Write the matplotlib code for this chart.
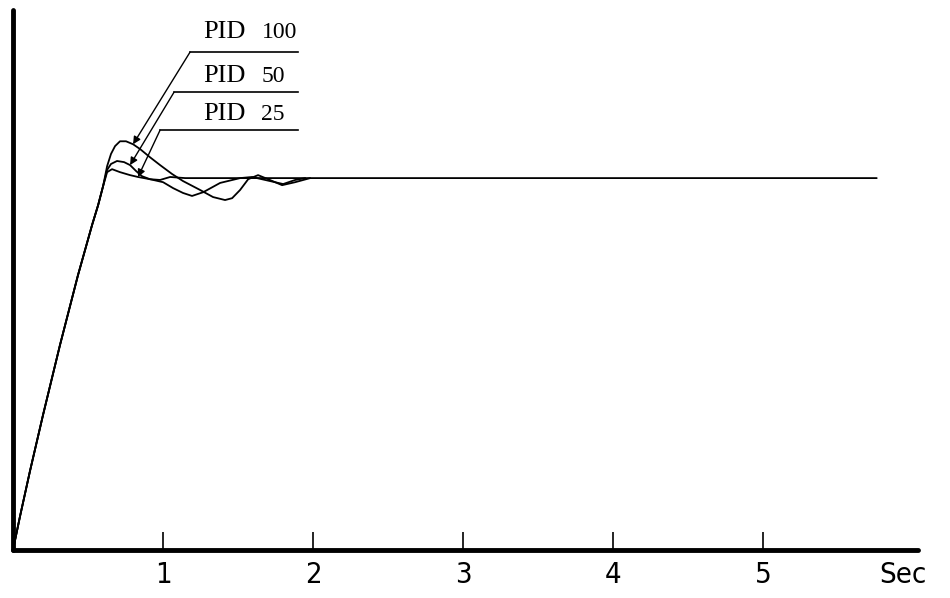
import numpy as np
import matplotlib.pyplot as plt

# step responses (time in s, output normalised to steady state)
t_rise = [0.0, 0.047, 0.113, 0.200, 0.313, 0.433, 0.527, 0.567, 0.600]
y_rise = [0.0, 0.091, 0.212, 0.363, 0.551, 0.739, 0.874, 0.927, 0.978]

t_pid100 = [0.627, 0.653, 0.680, 0.713, 0.753, 0.800, 0.847, 0.913, 0.980, 1.060, 1.133,
            1.247, 1.333, 1.413, 1.460, 1.513, 1.567, 1.633, 1.700, 1.793, 1.880, 1.980]
y_pid100 = [1.032, 1.065, 1.086, 1.099, 1.099, 1.091, 1.078, 1.056, 1.035, 1.011, 0.992,
            0.968, 0.949, 0.941, 0.946, 0.968, 0.997, 1.008, 0.997, 0.981, 0.989, 1.000]

t_pid50 = [0.627, 0.653, 0.693, 0.740, 0.780, 0.820, 0.860, 0.913, 1.000, 1.067, 1.133,
           1.193, 1.267, 1.380, 1.513, 1.593, 1.713, 1.800, 1.880, 1.947]
y_pid50 = [1.022, 1.038, 1.046, 1.043, 1.035, 1.019, 1.005, 0.997, 0.989, 0.973, 0.960,
           0.952, 0.962, 0.987, 1.000, 1.003, 0.992, 0.984, 0.995, 1.000]

t_pid25 = [0.627, 0.660, 0.713, 0.780, 0.833, 0.913, 0.980, 1.047, 1.147, 5.755]
y_pid25 = [1.016, 1.024, 1.016, 1.008, 1.003, 0.997, 0.995, 1.003, 1.000, 1.000]

names = ['PID', 'PID', 'PID']
gains = ['100', '50', '25']
xticks = [1, 2, 3, 4, 5]

# label layout (data coords): leader corner, text anchor, index of arrow tip on curve
corner = [(1.18, 1.339), (1.073, 1.231), (0.98, 1.129)]
text_at = [(1.267, 1.376), (1.267, 1.258), (1.267, 1.156)]
line_end = 1.90
tip_idx = [5, 4, 4]

fig = plt.figure(figsize=(9.5, 5.98), dpi=100)
ax = fig.add_axes([13 / 950, 48 / 598, 905 / 950, 540 / 598])
ax.set_xlim(0, 6.03)
ax.set_ylim(0, 1.452)

curves = [(t_pid100, y_pid100), (t_pid50, y_pid50), (t_pid25, y_pid25)]
for tt, yy in curves:
    ax.plot(t_rise + tt, y_rise + yy, color='black', lw=1.3,
            solid_capstyle='round', solid_joinstyle='round')

serif = ['Liberation Serif', 'DejaVu Serif']
for i, (tt, yy) in enumerate(curves):
    cx, cy = corner[i]
    ax.plot([cx, line_end], [cy, cy], color='black', lw=1.2)
    tip = (tt[tip_idx[i]], yy[tip_idx[i]])
    ax.annotate('', xy=tip, xytext=(cx, cy),
                arrowprops=dict(arrowstyle='-|>', color='black', lw=1.0,
                                mutation_scale=11, shrinkA=0, shrinkB=0))
    tx, ty = text_at[i]
    ax.text(tx, ty, names[i], family=serif, fontsize=19, va='baseline', ha='left')
    ax.annotate(gains[i], xy=(tx, ty), xytext=(42, 0), textcoords='offset points',
                family=serif, fontsize=17, va='baseline', ha='left')

for side in ['top', 'right']:
    ax.spines[side].set_visible(False)
for side in ['left', 'bottom']:
    ax.spines[side].set_linewidth(3.5)
    ax.spines[side].set_capstyle('round')

ax.set_yticks([])
ax.set_xticks(xticks)
ax.set_xticklabels([str(v) for v in xticks], family='DejaVu Sans',
                   fontstretch='condensed', fontsize=21)
ax.tick_params(axis='x', direction='in', length=13, width=1.2, pad=8)
ax.text(5.93, -0.067, 'Sec', family='DejaVu Sans', fontstretch='condensed',
        fontsize=21, ha='center', va='center')

fig.savefig('out.png', dpi=100)
